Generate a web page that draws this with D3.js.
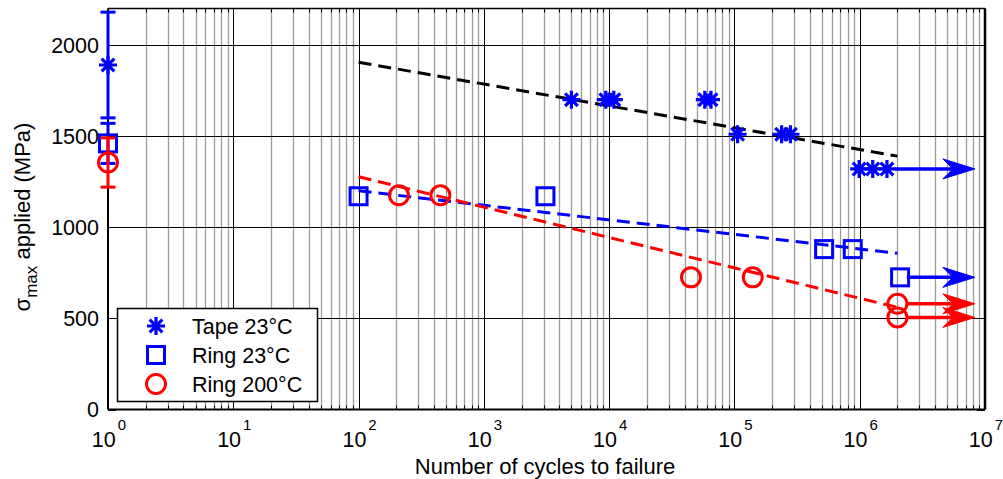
<!DOCTYPE html>
<html><head><meta charset="utf-8">
<script src="https://cdn.jsdelivr.net/npm/d3@7"></script>
<style>body{margin:0;background:#fff}svg{display:block}text{font-family:"Liberation Sans",Arial,sans-serif;fill:#000}</style>
</head><body><svg id="c" width="1003" height="479"></svg>
<script>
// ---- data ----
const tapeX  = [1, 5000, 9400, 10900, 58000, 65000, 106000, 238000, 280000, 990000, 1270000, 1650000];
const tapeY  = [1890, 1700, 1700, 1700, 1700, 1700, 1510, 1510, 1510, 1320, 1320, 1320];
const ring23X = [1, 100, 3100, 520000, 880000, 2100000];
const ring23Y = [1460, 1170, 1170, 880, 880, 725];
const ring200X = [1, 210, 450, 45000, 140000, 2000000, 2000000];
const ring200Y = [1355, 1175, 1175, 725, 725, 580, 505];
// error bars at N=1: [center, half-range]
const tapeErr = [1890, 290];
const ring23Err = [1460, 110];
const ring200Err = [1355, 135];
// fitted trend lines: [x0, x1], [y0, y1]
const tapeFitX = [100, 2000000], tapeFitY = [1905, 1390];
const ring23FitX = [100, 2000000], ring23FitY = [1200, 857];
const ring200FitX = [100, 2000000], ring200FitY = [1277, 560];
// run-out arrows: start x, end x, y
const arrowX0 = [1900000, 2380000, 2380000, 2380000];
const arrowX1 = [8300000, 8300000, 8300000, 8300000];
const arrowY  = [1320, 725, 580, 505];
const arrowColor = ["#0000ff", "#0000ff", "#ff0000", "#ff0000"];
const xTickExp = [0, 1, 2, 3, 4, 5, 6, 7];
const yTicks = [0, 500, 1000, 1500, 2000];
const legendLabels = ["Tape 23°C", "Ring 23°C", "Ring 200°C"];

// ---- layout ----
const L = 108, R = 985, T = 8.5, B = 409.5;
const svg = d3.select("#c");
const x = d3.scaleLog().domain([1, 1e7]).range([L, R]);
const y = d3.scaleLinear().domain([0, 2200]).range([B, T]);
const BLUE = "#0000ff", RED = "#ff0000";

// minor grid
const minor = [];
for (let d = 0; d < 7; d++) for (let k = 2; k <= 9; k++) minor.push(k * Math.pow(10, d));
const g = svg.append("g");
g.selectAll(".mg").data(minor).join("line")
  .attr("x1", d => Math.round(x(d)) + 0.5).attr("x2", d => Math.round(x(d)) + 0.5)
  .attr("y1", T).attr("y2", B).attr("stroke", "#9c9c9c").attr("stroke-width", 1.3);
g.selectAll(".Mg").data(xTickExp.slice(1, 7)).join("line")
  .attr("x1", d => Math.round(x(Math.pow(10, d))) + 0.5).attr("x2", d => Math.round(x(Math.pow(10, d))) + 0.5)
  .attr("y1", T).attr("y2", B).attr("stroke", "#000").attr("stroke-width", 1);
g.selectAll(".yg").data(yTicks.slice(1)).join("line")
  .attr("x1", L).attr("x2", R)
  .attr("y1", d => Math.round(y(d)) + 0.5).attr("y2", d => Math.round(y(d)) + 0.5)
  .attr("stroke", "#000").attr("stroke-width", 1);

// ticks (inward, bottom/top, left/right)
const tk = svg.append("g").attr("stroke", "#000").attr("stroke-width", 1);
minor.forEach(v => {
  const px = Math.round(x(v)) + 0.5;
  tk.append("line").attr("x1", px).attr("x2", px).attr("y1", B).attr("y2", B - 4);
  tk.append("line").attr("x1", px).attr("x2", px).attr("y1", T).attr("y2", T + 4);
});
xTickExp.forEach(e => {
  const px = Math.round(x(Math.pow(10, e))) + 0.5;
  tk.append("line").attr("x1", px).attr("x2", px).attr("y1", B).attr("y2", B - 8);
  tk.append("line").attr("x1", px).attr("x2", px).attr("y1", T).attr("y2", T + 8);
});
yTicks.forEach(v => {
  const py = Math.round(y(v)) + 0.5;
  tk.append("line").attr("x1", L).attr("x2", L + 8).attr("y1", py).attr("y2", py);
  tk.append("line").attr("x1", R).attr("x2", R - 8).attr("y1", py).attr("y2", py);
});

// spines
svg.append("line").attr("x1", L).attr("x2", R).attr("y1", T).attr("y2", T).attr("stroke", "#000").attr("stroke-width", 1.5);
svg.append("line").attr("x1", L).attr("x2", R).attr("y1", B).attr("y2", B).attr("stroke", "#000").attr("stroke-width", 2);
svg.append("line").attr("x1", L).attr("x2", L).attr("y1", T).attr("y2", B).attr("stroke", "#000").attr("stroke-width", 2);
svg.append("line").attr("x1", R).attr("x2", R).attr("y1", T).attr("y2", B).attr("stroke", "#000").attr("stroke-width", 2.5);

// tick labels
const FS = 21.5;
svg.selectAll(".yl").data(yTicks).join("text")
  .attr("x", 99).attr("y", d => y(d)).attr("dy", "0.36em").attr("text-anchor", "end")
  .attr("font-size", FS).text(d => d);
const xl = svg.selectAll(".xl").data(xTickExp).join("text")
  .attr("x", d => x(Math.pow(10, d)) + 1).attr("y", 447).attr("text-anchor", "middle").attr("font-size", FS);
xl.append("tspan").text("10");
xl.append("tspan").attr("dx", 2).attr("dy", -17).attr("font-size", 15).text(d => d);

// axis titles
svg.append("text").attr("y", 474).attr("text-anchor", "middle")
  .attr("font-size", 22).attr("x", 545).text("Number of cycles to failure");
const yt = svg.append("text").attr("transform", "translate(30,217) rotate(-90)")
  .attr("text-anchor", "middle").attr("font-size", 22);
yt.append("tspan").text("σ");
yt.append("tspan").attr("dy", 7).attr("font-size", 17).text("max");
yt.append("tspan").attr("dy", -7).text(" applied (MPa)");

// fit lines
const line = d3.line().x(d => x(d[0])).y(d => y(d[1]));
function fit(xs, ys, col) {
  svg.append("path").datum(xs.map((v, i) => [v, ys[i]])).attr("d", line)
    .attr("fill", "none").attr("stroke", col).attr("stroke-width", 3).attr("stroke-dasharray", "13,7");
}
fit(tapeFitX, tapeFitY, "#000");
fit(ring23FitX, ring23FitY, BLUE);
fit(ring200FitX, ring200FitY, RED);

// arrows
arrowY.forEach((v, i) => {
  const x0 = x(arrowX0[i]), x1 = x(arrowX1[i]), py = y(v), c = arrowColor[i];
  svg.append("line").attr("x1", x0).attr("x2", x1 - 20).attr("y1", py).attr("y2", py)
    .attr("stroke", c).attr("stroke-width", 3.5);
  svg.append("path").attr("d", `M${x1},${py} L${x1 - 32},${py - 10} L${x1 - 22},${py} L${x1 - 32},${py + 10} Z`)
    .attr("fill", c).attr("stroke", c).attr("stroke-width", 1);
});

// markers
function asterisk(sel, r) {
  const p = [];
  for (let a = 0; a < 4; a++) {
    const t = a * Math.PI / 4;
    p.push(`M${-r * Math.cos(t)},${-r * Math.sin(t)}L${r * Math.cos(t)},${r * Math.sin(t)}`);
  }
  sel.append("path").attr("d", p.join("")).attr("fill", "none");
}
function errbar(err, col) {
  const px = x(1);
  const gg = svg.append("g").attr("stroke", col).attr("stroke-width", 3);
  gg.append("line").attr("x1", px).attr("x2", px).attr("y1", y(err[0] - err[1])).attr("y2", y(err[0] + err[1]));
  [err[0] - err[1], err[0] + err[1]].forEach(v => gg.append("line")
    .attr("x1", px - 7.5).attr("x2", px + 7.5).attr("y1", y(v)).attr("y2", y(v)));
}
function drawMarker(gg, type) {
  if (type === "ast") asterisk(gg, 9);
  else if (type === "sq") gg.append("rect").attr("x", -8.5).attr("y", -8.5).attr("width", 17).attr("height", 17).attr("fill", "none");
  else gg.append("circle").attr("r", 9.5).attr("fill", "none");
}
function series(xs, ys, err, col, type, sw) {
  errbar(err, col);
  xs.forEach((v, i) => {
    const gg = svg.append("g").attr("transform", `translate(${x(v)},${y(ys[i])})`)
      .attr("stroke", col).attr("stroke-width", sw);
    drawMarker(gg, type);
  });
}
series(tapeX, tapeY, tapeErr, BLUE, "ast", 3.2);
series(ring23X, ring23Y, ring23Err, BLUE, "sq", 3);
series(ring200X, ring200Y, ring200Err, RED, "ci", 3);

// legend
const lg = svg.append("g");
lg.append("rect").attr("x", 117.5).attr("y", 308.5).attr("width", 200).attr("height", 93)
  .attr("fill", "#fff").attr("stroke", "#000").attr("stroke-width", 1.5);
const lt = [["ast", BLUE, 3.2], ["sq", BLUE, 3], ["ci", RED, 3]];
legendLabels.forEach((s, i) => {
  const cy = 326 + i * 29;
  const gg = lg.append("g").attr("transform", `translate(156,${cy})`).attr("stroke", lt[i][1]).attr("stroke-width", lt[i][2]);
  drawMarker(gg, lt[i][0]);
  lg.append("text").attr("x", 192).attr("y", cy).attr("dy", "0.36em").attr("font-size", FS).text(s);
});
</script></body></html>
